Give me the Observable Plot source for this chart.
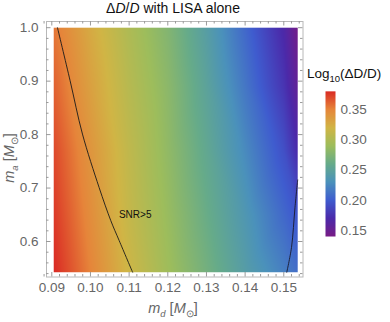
<!DOCTYPE html>
<html><head><meta charset="utf-8">
<script src="https://cdn.jsdelivr.net/npm/d3@7"></script>
<script src="https://cdn.jsdelivr.net/npm/@observablehq/plot@0.6"></script>
<style>
body{margin:0;background:#fff;}
#root{position:relative;width:390px;height:322px;font-family:"Liberation Sans",Arial,sans-serif;overflow:hidden;}
.abs{position:absolute;white-space:nowrap;}
</style></head><body>
<div id="root"></div>
<script>
// m_d grid columns, m_a grid rows, Log10(ΔD/D) values (rows bottom→top)
const mdGrid = [0.0905, 0.10, 0.11, 0.12, 0.13, 0.14, 0.15, 0.1536];
const maGrid = [0.5425, 0.65, 0.77, 0.89, 1.0];
const logRatio = [
  [0.380, 0.350, 0.318, 0.292, 0.268, 0.243, 0.220, 0.210],
  [0.375, 0.345, 0.313, 0.288, 0.262, 0.236, 0.207, 0.196],
  [0.370, 0.340, 0.310, 0.284, 0.256, 0.226, 0.193, 0.170],
  [0.362, 0.333, 0.305, 0.281, 0.250, 0.215, 0.177, 0.154],
  [0.355, 0.327, 0.300, 0.276, 0.244, 0.207, 0.168, 0.143]
];
// SNR = 5 contour lines
const snrLeftMd = [0.09147, 0.09473, 0.09793, 0.10224, 0.10526, 0.10741, 0.1109];
const snrLeftMa = [1.0, 0.901, 0.801, 0.701, 0.639, 0.602, 0.5425];
const snrRightMd = [0.1536, 0.1529, 0.1520, 0.15077];
const snrRightMa = [0.7153, 0.664, 0.589, 0.5425];
// ticks
const xTicks = [0.09, 0.10, 0.11, 0.12, 0.13, 0.14, 0.15];
const yTicks = [0.6, 0.7, 0.8, 0.9, 1.0];
const cTicks = [0.15, 0.20, 0.25, 0.30, 0.35];
const xMinor = d3.range(0.088, 0.1551, 0.002).filter(v => Math.abs(v*100 - Math.round(v*100)) > 1e-6);
const yMinor = d3.range(0.54, 1.011, 0.02).filter(v => Math.abs(v*10 - Math.round(v*10)) > 1e-6);
// colour scheme (Rainbow-like)
const cDomain = [0.14, 0.17, 0.20, 0.23, 0.26, 0.29, 0.32, 0.35, 0.38];
const cRange = ["#781c86", "#4b2aaa", "#3f5ccf", "#4b92bb", "#66ab8a", "#9dbd5c", "#d1b545", "#e6853a", "#da2a24"];

const pts = [];
maGrid.forEach((y, i) => mdGrid.forEach((x, j) => pts.push({x, y, v: logRatio[i][j]})));
const left = snrLeftMd.map((x, i) => ({x, y: snrLeftMa[i]}));
const right = snrRightMd.map((x, i) => ({x, y: snrRightMa[i]}));

const W = 310, H = 322, mL = 46, mR = 7.5, mT = 21, mB = 45.5;
const fw = W - mL - mR, fh = H - mT - mB;
const colorOpt = {type: "linear", domain: cDomain, range: cRange, interpolate: "rgb"};
const tickColor = "#9a9a9a";

const main = Plot.plot({
  width: W, height: H, marginLeft: mL, marginRight: mR, marginTop: mT, marginBottom: mB,
  style: {fontFamily: "Liberation Sans, Arial, sans-serif", background: "transparent"},
  x: {domain: [0.08863, 0.15497]},
  y: {domain: [0.5336, 1.0116]},
  color: colorOpt,
  marks: [
    Plot.raster(pts, {x: "x", y: "y", fill: "v", x1: 0.0905, x2: 0.1536, y1: 0.5425, y2: 1.0, interpolate: "barycentric", pixelSize: 1}),
    Plot.line(left, {x: "x", y: "y", curve: "catmull-rom", stroke: "#1a1a1a", strokeWidth: 0.9}),
    Plot.line(right, {x: "x", y: "y", curve: "catmull-rom", stroke: "#1a1a2a", strokeWidth: 0.9}),
    Plot.text(["SNR>5"], {x: 0.11157, y: 0.650, text: d => d, fontSize: 10, fill: "#111"}),
    Plot.frame({stroke: "#b8b8b8"}),
    Plot.ruleX(xTicks, {x: d => d, insetTop: fh - 4.5, stroke: tickColor}),
    Plot.ruleX(xTicks, {x: d => d, insetBottom: fh - 4.5, stroke: tickColor}),
    Plot.ruleX(xMinor, {x: d => d, insetTop: fh - 2.5, stroke: tickColor}),
    Plot.ruleX(xMinor, {x: d => d, insetBottom: fh - 2.5, stroke: tickColor}),
    Plot.ruleY(yTicks, {y: d => d, insetRight: fw - 4.5, stroke: tickColor}),
    Plot.ruleY(yTicks, {y: d => d, insetLeft: fw - 4.5, stroke: tickColor}),
    Plot.ruleY(yMinor, {y: d => d, insetRight: fw - 2.5, stroke: tickColor}),
    Plot.ruleY(yMinor, {y: d => d, insetLeft: fw - 2.5, stroke: tickColor}),
    Plot.axisX(xTicks, {anchor: "bottom", tickSize: 0, tickPadding: 5, tickFormat: d3.format(".2f"), fill: "#666", fontSize: 13.5, label: null}),
    Plot.axisY(yTicks, {anchor: "left", tickSize: 0, tickPadding: 8, tickFormat: d3.format(".1f"), fill: "#666", fontSize: 13.5, label: null})
  ]
});
main.style.position = "absolute"; main.style.left = "0px"; main.style.top = "0px";

const cbTop = 85, cbH = 160;
const cbar = Plot.plot({
  width: 72, height: cbH, marginLeft: 7, marginRight: 55, marginTop: 90.85 - cbTop, marginBottom: cbTop + cbH - 236,
  style: {fontFamily: "Liberation Sans, Arial, sans-serif", background: "transparent"},
  x: {domain: [0, 1], axis: null},
  y: {domain: [0.14, 0.38]},
  color: colorOpt,
  marks: [
    Plot.raster({fill: (x, y) => y, x1: 0, x2: 1, y1: 0.14, y2: 0.38, pixelSize: 1}),
    Plot.axisY(cTicks, {anchor: "right", tickSize: 0, tickPadding: 5, tickFormat: d3.format(".2f"), fill: "#666", fontSize: 13.5, label: null})
  ]
});
cbar.style.position = "absolute"; cbar.style.left = "318px"; cbar.style.top = cbTop + "px";

const root = document.getElementById("root");
root.appendChild(main);
root.appendChild(cbar);

function addDiv(html, css) {
  const d = document.createElement("div");
  d.className = "abs"; d.innerHTML = html; Object.assign(d.style, css);
  root.appendChild(d);
  return d;
}
addDiv("Δ<i>D</i>/<i>D</i> with LISA alone", {left: "0px", width: "346px", top: "0px", textAlign: "center", fontSize: "14px", color: "#111"});
addDiv('<i>m</i><sub style="font-size:9.5px"><i>d</i></sub> [<i>M</i><sub style="font-size:9.5px">⊙</sub>]', {left: "100px", width: "146px", top: "300px", textAlign: "center", fontSize: "14.5px", color: "#666", lineHeight: "16px"});
addDiv('<i>m</i><sub style="font-size:9.5px"><i>a</i></sub> [<i>M</i><sub style="font-size:9.5px">⊙</sub>]', {left: "-38px", width: "100px", top: "147px", textAlign: "center", fontSize: "14.5px", color: "#666", lineHeight: "16px", transform: "rotate(-90deg)"});
addDiv('Log<sub style="font-size:9.5px">10</sub>(ΔD/D)', {left: "307px", top: "66px", fontSize: "13.5px", color: "#111", lineHeight: "16px"});
</script>
</body></html>
